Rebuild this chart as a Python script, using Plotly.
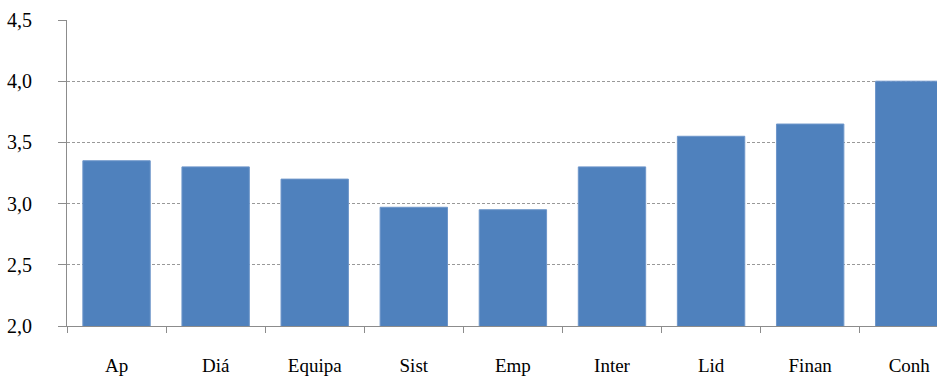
import plotly.graph_objects as go

# Mean scores by area
categories = ["Ap", "Diá", "Equipa", "Sist", "Emp", "Inter", "Lid", "Finan", "Conh"]
scores = [3.35, 3.30, 3.20, 2.97, 2.95, 3.30, 3.55, 3.65, 4.00]
y_ticks = [2.0, 2.5, 3.0, 3.5, 4.0, 4.5]

fig = go.Figure(
    go.Bar(
        x=categories,
        y=scores,
        marker=dict(color="#4F81BD", line=dict(color="#6E96CA", width=1)),
        width=0.68,
    )
)

serif = "Liberation Serif"

fig.update_layout(
    width=937,
    height=376,
    margin=dict(l=67, r=0, t=20, b=50),
    paper_bgcolor="white",
    plot_bgcolor="white",
    showlegend=False,
    separators=",.",
    bargap=0.32,
    font=dict(family=serif),
)

fig.update_xaxes(
    type="category",
    range=[-0.5, 8.28],
    showline=True,
    linecolor="#8C8C8C",
    linewidth=1,
    ticks="outside",
    tickson="boundaries",
    ticklen=6,
    tickcolor="#8C8C8C",
    ticklabelstandoff=22,
    tickfont=dict(family=serif, size=19, color="black"),
    showgrid=False,
)

fig.update_yaxes(
    range=[2.0, 4.5],
    tickvals=y_ticks,
    tickformat=".1f",
    showline=True,
    linecolor="#8C8C8C",
    linewidth=1,
    ticks="outside",
    ticklen=8,
    tickcolor="#8C8C8C",
    ticklabelstandoff=22,
    tickfont=dict(family=serif, size=20, color="black"),
    showgrid=True,
    gridcolor="#999999",
    gridwidth=1,
    griddash="3px,2px",
    zeroline=False,
)

fig.write_html("out.html")
